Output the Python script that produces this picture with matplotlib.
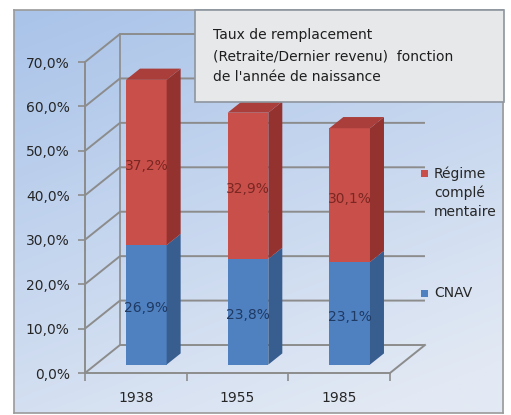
import numpy as np
import matplotlib.pyplot as plt
from matplotlib.patches import Polygon, Rectangle

# DATA
years = ["1938", "1955", "1985"]
cnav = [26.9, 23.8, 23.1]
complementaire = [37.2, 32.9, 30.1]
series_names = ["CNAV", "Régime\ncomplé\nmentaire"]
title = "Taux de remplacement\n(Retraite/Dernier revenu)  fonction\nde l'année de naissance"
yticks = [0, 10, 20, 30, 40, 50, 60, 70]

# STYLE
W, H = 511, 415
RED_FRONT, RED_SIDE, RED_TOP = "#C9504A", "#943230", "#A93E3A"
BLUE_FRONT, BLUE_SIDE = "#4F80C0", "#385E90"
GRID = "#8C8C8C"
FONT = "DejaVu Sans"

def fx(px):
    return px / W

def fy(py):
    return 1 - py / H

fig = plt.figure(figsize=(W / 100, H / 100), dpi=100, facecolor="white")

# background panel with gradient
bg = fig.add_axes([fx(14), fy(413), fx(503) - fx(14), fy(10) - fy(413)])
yy, xx = np.mgrid[0:1:200j, 0:1:200j]
t = np.clip(0.75 * yy + 0.35 * xx, 0, 1)
c0 = np.array([0xA9, 0xC3, 0xE9]) / 255
c1 = np.array([0xE2, 0xE9, 0xF4]) / 255
img = c0[None, None, :] * (1 - t[..., None]) + c1[None, None, :] * t[..., None]
bg.imshow(img, aspect="auto", extent=[0, 1, 0, 1], origin="upper")
bg.set_xticks([])
bg.set_yticks([])
for s in bg.spines.values():
    s.set_color("#9A9A9A")
    s.set_linewidth(1.2)

# main axes = front plane of the 3D box
ax = fig.add_axes([fx(85), fy(373), fx(390) - fx(85), fy(62) - fy(373)])
ax.set_facecolor("none")
ax.set_xlim(0, 3)
ax.set_ylim(0, 70)
DX, DY = 0.344, 6.3  # depth offset in data units

# side wall + back wall gridlines
for v in yticks:
    ax.plot([0, DX, 3 + DX], [v, v + DY, v + DY], color=GRID, lw=1.4,
            clip_on=False, zorder=1, solid_capstyle="butt")
ax.plot([DX, DX], [DY, 70 + DY], color=GRID, lw=1.2, clip_on=False, zorder=1)
ax.plot([3, 3 + DX], [0, DY], color=GRID, lw=1.4, clip_on=False, zorder=1)

# 3D bars
bw = 0.4
d0, d1 = 0.3, 0.7
x = np.arange(len(years)) + 0.5
for i, xc in enumerate(x):
    segs = [(0, cnav[i], BLUE_FRONT, BLUE_SIDE, "#1F3A63"),
            (cnav[i], cnav[i] + complementaire[i], RED_FRONT, RED_SIDE, "#7A2622")]
    for k, (y0, y1, cf, cs, tc) in enumerate(segs):
        xl = xc - bw / 2 + d0 * DX
        xr = xc + bw / 2 + d0 * DX
        yb = y0 + d0 * DY
        yt = y1 + d0 * DY
        ax.add_patch(Rectangle((xl, yb), xr - xl, yt - yb, facecolor=cf,
                               edgecolor="none", clip_on=False, zorder=3))
        side = [(xr, yb), (xr + (d1 - d0) * DX, yb + (d1 - d0) * DY),
                (xr + (d1 - d0) * DX, yt + (d1 - d0) * DY), (xr, yt)]
        ax.add_patch(Polygon(side, closed=True, facecolor=cs, edgecolor="none",
                             clip_on=False, zorder=3))
        if k == 1:
            top = [(xl, yt), (xr, yt), (xr + (d1 - d0) * DX, yt + (d1 - d0) * DY),
                   (xl + (d1 - d0) * DX, yt + (d1 - d0) * DY)]
            ax.add_patch(Polygon(top, closed=True, facecolor=RED_TOP,
                                 edgecolor="none", clip_on=False, zorder=3))
        val = y1 - y0
        ax.text((xl + xr) / 2, (yb + yt) / 2 - 0.8, f"{val:.1f}%".replace(".", ","),
                ha="center", va="center", fontsize=10, color=tc, family=FONT,
                zorder=4, clip_on=False)

# axes styling
for s in ["top", "right"]:
    ax.spines[s].set_visible(False)
for s in ["left", "bottom"]:
    ax.spines[s].set_color(GRID)
    ax.spines[s].set_linewidth(1.4)
    ax.spines[s].set_zorder(2)
ax.set_yticks(yticks)
ax.set_yticklabels([f"{v:.1f}%".replace(".", ",") for v in yticks],
                   fontsize=10, color="#262626", family=FONT)
ax.set_xticks([0, 1, 2, 3])
ax.set_xticklabels([])
ax.set_xticks(x, minor=True)
ax.set_xticklabels(years, minor=True, fontsize=10, color="#262626", family=FONT)
ax.tick_params(axis="y", direction="out", length=5, color=GRID, width=1.2, pad=6)
ax.tick_params(axis="x", which="major", direction="out", length=6, color=GRID, width=1.2)
ax.tick_params(axis="x", which="minor", length=0, pad=13)

# title box
fig.patches.append(Rectangle((fx(195), fy(102)), fx(504) - fx(195), fy(10) - fy(102),
                             transform=fig.transFigure, facecolor="#E7E8EA",
                             edgecolor="#8E959E", linewidth=1.2, zorder=5))
fig.text(fx(213), fy(56), title, ha="left", va="center", fontsize=10,
         color="#1E1E1E", family=FONT, linespacing=1.65, zorder=6)

# legend
fig.patches.append(Rectangle((fx(421), fy(177)), fx(7) - fx(0), fy(0) - fy(7),
                             transform=fig.transFigure, facecolor=RED_FRONT,
                             edgecolor="none", zorder=5))
fig.text(fx(434), fy(166), series_names[1], ha="left", va="top", fontsize=10,
         color="#262626", family=FONT, linespacing=1.45, zorder=6)
fig.patches.append(Rectangle((fx(421), fy(297)), fx(7) - fx(0), fy(0) - fy(7),
                             transform=fig.transFigure, facecolor=BLUE_FRONT,
                             edgecolor="none", zorder=5))
fig.text(fx(434), fy(293), series_names[0], ha="left", va="center", fontsize=10,
         color="#262626", family=FONT, zorder=6)

fig.savefig("out.png", dpi=100, facecolor="white")
